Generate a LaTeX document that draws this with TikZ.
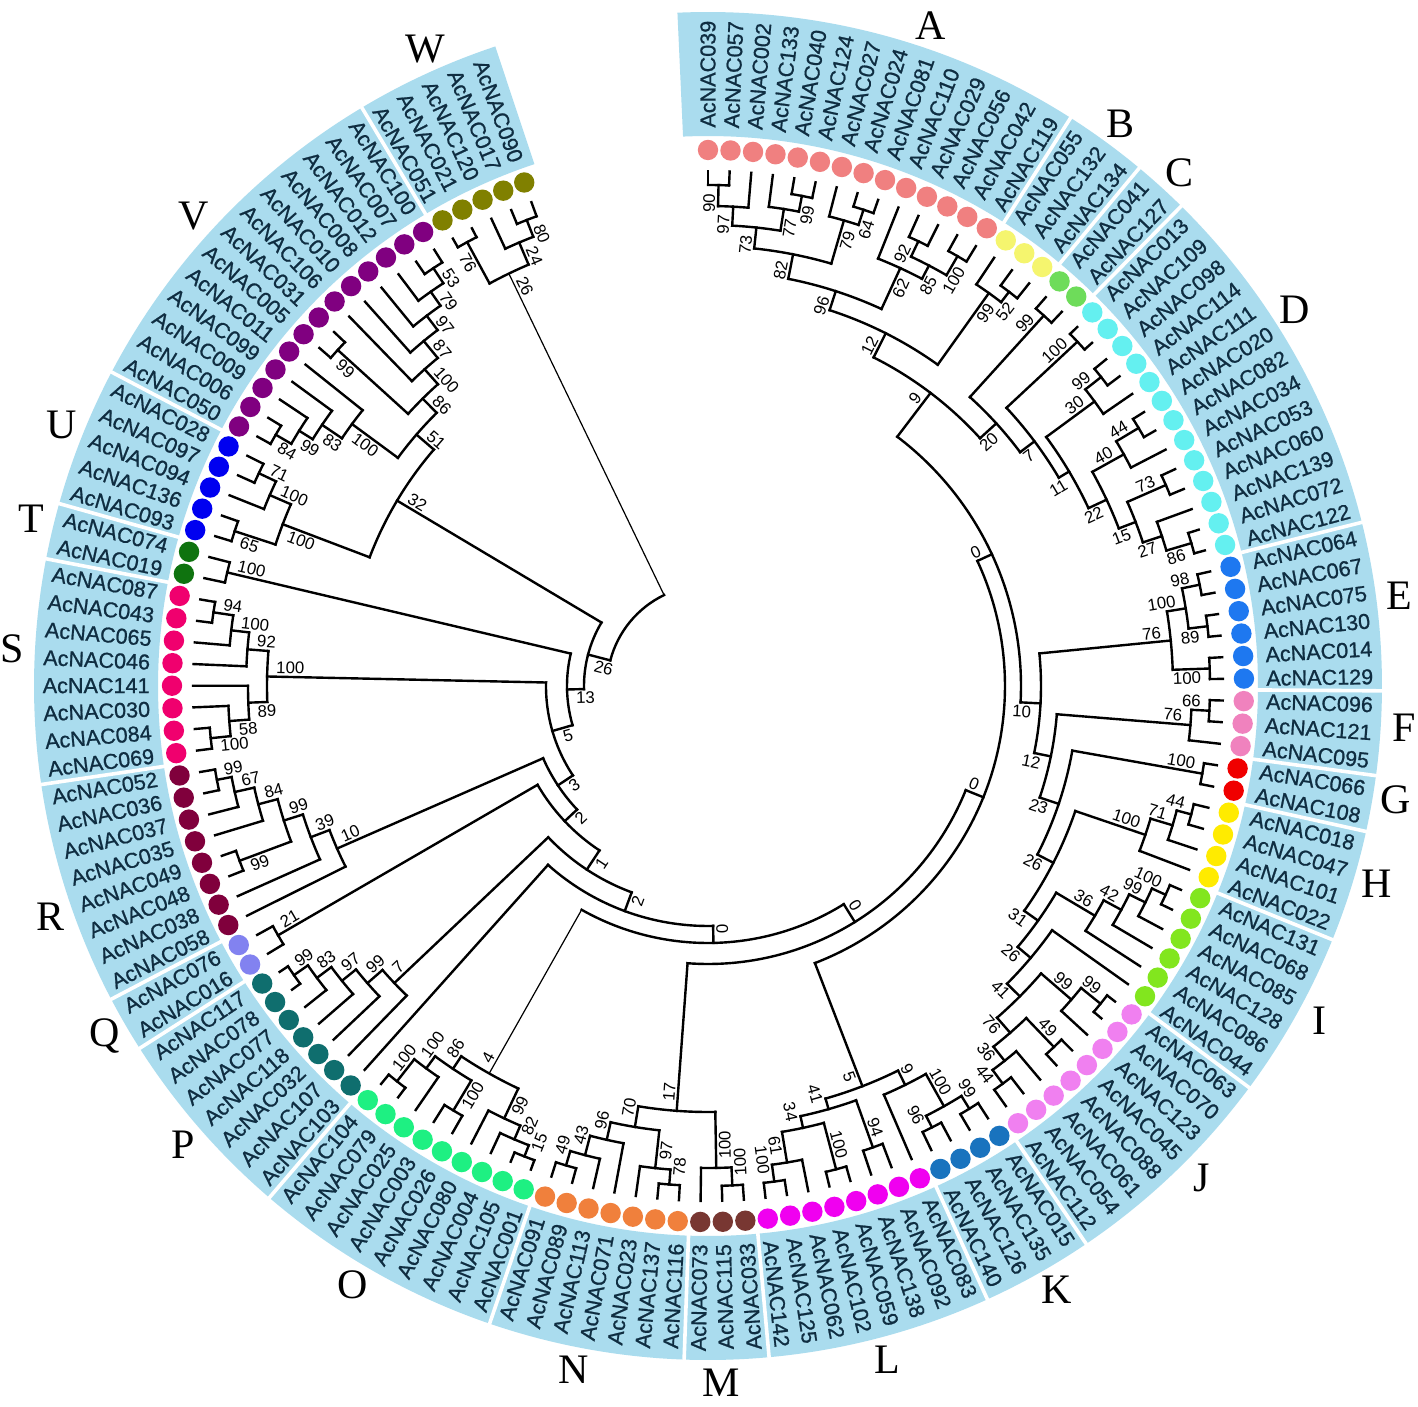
\documentclass[tikz,border=0pt]{standalone}
\usepackage{fontspec}
\setmainfont{Liberation Serif}
\newfontfamily\lsans{Liberation Sans}
\newfontfamily\lsansb[FakeBold=0.9]{Liberation Sans}
\definecolor{bandc}{RGB}{170,220,238}
\definecolor{txc}{RGB}{15,45,65}
\definecolor{cA}{RGB}{240,128,128}\definecolor{cB}{RGB}{245,245,110}
\definecolor{cC}{RGB}{110,220,90}\definecolor{cD}{RGB}{100,240,240}
\definecolor{cE}{RGB}{30,120,240}\definecolor{cF}{RGB}{240,130,190}
\definecolor{cG}{RGB}{240,0,0}\definecolor{cH}{RGB}{255,235,0}
\definecolor{cI}{RGB}{130,230,30}\definecolor{cJ}{RGB}{240,128,240}
\definecolor{cK}{RGB}{25,115,190}\definecolor{cL}{RGB}{240,0,240}
\definecolor{cM}{RGB}{120,55,50}\definecolor{cN}{RGB}{240,128,60}
\definecolor{cO}{RGB}{30,240,130}\definecolor{cP}{RGB}{15,110,110}
\definecolor{cQ}{RGB}{130,130,240}\definecolor{cR}{RGB}{128,0,60}
\definecolor{cS}{RGB}{240,0,110}\definecolor{cT}{RGB}{15,115,15}
\definecolor{cU}{RGB}{0,0,240}\definecolor{cV}{RGB}{128,0,128}
\definecolor{cW}{RGB}{128,128,0}
\def\tA#1{\csname tA@#1\endcsname}
\def\tR#1{\csname tR@#1\endcsname}
\newcommand\putlab[2]{%
  \edef\pla{\tA{#1}}\edef\plr{\tR{#1}}%
  \expandafter\let\expandafter\plt\csname tL@#1\endcsname
  \ifx\plt\empty\else
    \pgfmathsetmacro\plrr{\plr-6}%
    \pgfmathtruncatemacro\pflip{\pla<-86}%
    \ifnum\pflip=0
      \ifnum#2=1 \def\panc{south east}\else\def\panc{north east}\fi
      \edef\prot{\pla}%
    \else
      \ifnum#2=1 \def\panc{north west}\else\def\panc{south west}\fi
      \pgfmathsetmacro\prot{\pla+180}%
    \fi
    \node[bs,rotate=\prot,anchor=\panc] at (\pla:\plrr) {\plt};
  \fi}
% node: name, child1, child2, radius, label, style of radial 1, style of radial 2
\newcommand\ndx[7]{%
  \edef\aA{\tA{#2}}\edef\aB{\tA{#3}}\edef\rA{\tR{#2}}\edef\rB{\tR{#3}}%
  \pgfmathsetmacro\aM{(\aA+\aB)/2}%
  \expandafter\xdef\csname tA@#1\endcsname{\aM}%
  \expandafter\xdef\csname tR@#1\endcsname{#4}%
  \expandafter\gdef\csname tL@#1\endcsname{#5}%
  \draw[br] (\aA:#4) arc[start angle=\aA, end angle=\aB, radius=#4*0.5pt];
  \draw[#6] (\aA:\rA) -- (\aA:#4);
  \draw[#7] (\aB:#4) -- (\aB:\rB);
  \pgfmathtruncatemacro\cmp{\aA>\aB}%
  \ifnum\cmp=1 \putlab{#2}{1}\putlab{#3}{0}\else\putlab{#2}{0}\putlab{#3}{1}\fi}
\newcommand\nd[5]{\ndx{#1}{#2}{#3}{#4}{#5}{br}{br}}
\begin{document}
\begin{tikzpicture}[x=0.5pt,y=0.5pt,
  br/.style={line width=1.2pt,line cap=rect},
  bt/.style={line width=0.6pt},
  bs/.style={font=\lsans\fontsize{8.4}{8.4}\selectfont,inner sep=1.3pt},
  ll/.style={font=\lsansb\fontsize{10.8}{11}\selectfont,text=txc,inner sep=0pt},
  gl/.style={font=\fontsize{21}{21}\selectfont,inner sep=0pt}]
\useasboundingbox (-708,-721) rectangle (710,686);
\fill[white] (-708,-721) rectangle (710,686);
% leaves
\foreach \i in {0,...,141}{%
  \pgfmathsetmacro\tmpa{90-2.411*\i}%
  \expandafter\xdef\csname tA@L\i\endcsname{\tmpa}%
  \expandafter\xdef\csname tR@L\i\endcsname{515}%
  \expandafter\gdef\csname tL@L\i\endcsname{}}
% groups: band, dots, letters
\foreach \f/\l/\c/\la/\g in {0/13/cA/71.4/A,14/16/cB/53.7/B,17/18/cC/47.4/C,19/31/cD/32.7/D,32/37/cE/7.4/E,38/40/cF/-3.4/F,41/42/cG/-9.4/G,43/46/cH/-16.5/H,47/52/cI/-28.7/I,53/60/cJ/-44.9/J,61/64/cK/-60/K,65/72/cL/-75.1/L,73/75/cM/-88.9/M,76/82/cN/-101.1/N,83/91/cO/-120.7/O,92/98/cP/-138.8/P,99/100/cQ/-149.9/Q,101/108/cR/-160.7/R,109/116/cS/-183.05/S,117/118/cT/-193.9/T,119/123/cU/-202/U,124/136/cV/-222.4/V,137/141/cW/-246.1/W}{%
  \pgfmathsetmacro\sa{90-2.411*\f+1.2055}%
  \pgfmathsetmacro\ea{90-2.411*\l-1.2055}%
  \ifnum\f=0 \def\sa{92.6}\fi
  \ifnum\l=141 \def\ea{-251.6}\fi
  \fill[bandc] (\sa:550) arc[start angle=\sa,end angle=\ea,radius=275pt] -- (\ea:674) arc[start angle=\ea,end angle=\sa,radius=337pt] -- cycle;
  \ifnum\f>0 \draw[white,line width=1.8pt] (\sa:546) -- (\sa:678);\fi
  \foreach \i in {\f,...,\l}{\fill[\c] ({90-2.411*\i}:536) circle[radius=5.1pt];}
  \node[gl] (g\g) at (\la:697) {\g};
}
% leaf labels
\foreach \i/\t in {0/039,1/057,2/002,3/133,4/040,5/124,6/027,7/024,8/081,9/110,10/029,11/056,12/042,13/119,14/055,15/132,16/134,17/041,18/127,19/013,20/109,21/098,22/114,23/111,24/020,25/082,26/034,27/053,28/060,29/139,30/072,31/122,32/064,33/067,34/075,35/130,36/014,37/129,38/096,39/121,40/095,41/066,42/108,43/018,44/047,45/101,46/022,47/131,48/068,49/085,50/128,51/086,52/044,53/063,54/070,55/123,56/045,57/088,58/061,59/054,60/112,61/015,62/135,63/126,64/140,65/083,66/092,67/138,68/059,69/102,70/062,71/125,72/142,73/033,74/115,75/073,76/116,77/137,78/023,79/071,80/113,81/089,82/091,83/001,84/105,85/004,86/080,87/026,88/003,89/025,90/079,91/104,92/103,93/107,94/032,95/118,96/077,97/078,98/117,99/016,100/076,101/058,102/038,103/048,104/049,105/035,106/037,107/036,108/052,109/069,110/084,111/030,112/141,113/046,114/065,115/043,116/087,117/019,118/074,119/093,120/136,121/094,122/097,123/028,124/050,125/006,126/009,127/099,128/011,129/005,130/031,131/106,132/010,133/008,134/012,135/007,136/100,137/051,138/021,139/120,140/017,141/090}{%
  \pgfmathsetmacro\ang{90-2.411*\i}%
  \ifnum\i<73
    \node[ll,rotate=\ang,anchor=west] (t\i) at (\ang:558) {AcNAC\t};
  \else
    \pgfmathsetmacro\rot{\ang+180}%
    \node[ll,rotate=\rot,anchor=east] (t\i) at (\ang:558) {AcNAC\t};
  \fi}
% ---- tree ----
% A
\nd{a1}{L0}{L1}{501}{90}
\nd{a2}{a1}{L2}{480}{97}
\nd{a3}{L4}{L5}{499}{99}
\nd{a4}{L3}{a3}{483}{77}
\nd{a5}{a2}{a4}{461}{73}
\nd{a6}{L7}{L8}{501}{64}
\nd{a7}{L6}{a6}{485}{79}
\nd{a8}{a5}{a7}{440}{82}
\nd{a9}{L10}{L11}{492}{92}
\nd{a10}{L12}{L13}{497}{100}
\nd{a11}{a9}{a10}{475}{85}
\nd{a12}{L9}{a11}{460}{62}
\nd{A}{a8}{a12}{415}{96}
% B C D
\nd{b1}{L15}{L16}{496}{52}
\nd{B}{L14}{b1}{483}{99}
\nd{C}{L17}{L18}{500}{99}
\nd{d1}{L19}{L20}{505}{100}
\nd{d21}{L21}{L22}{500}{99}
\nd{d30}{d21}{L23}{480}{30}
\nd{d44}{L24}{L25}{502}{44}
\nd{d40}{d44}{L26}{476}{40}
\nd{d73}{L27}{L28}{500}{73}
\nd{d86}{L30}{L31}{504}{86}
\nd{d27}{L29}{d86}{478}{27}
\nd{d15}{d73}{d27}{458}{15}
\nd{d22}{d40}{d15}{440}{22}
\nd{d11}{d30}{d22}{420}{11}
\nd{D}{d1}{d11}{408}{7}
\nd{n20}{C}{D}{390}{20}
\nd{n12}{A}{B}{395}{12}
\nd{n9a}{n12}{n20}{368}{9}
% E F G H
\nd{e1}{L32}{L33}{502}{98}
\nd{e2}{L34}{L35}{503}{89}
\nd{e3}{e1}{e2}{484}{100}
\nd{e4}{L36}{L37}{502}{100}
\nd{E}{e3}{e4}{465}{76}
\nd{f1}{L38}{L39}{502}{66}
\nd{F}{f1}{L40}{484}{76}
\nd{G}{L41}{L42}{502}{100}
\nd{h1}{L43}{L44}{500}{44}
\nd{h2}{h1}{L45}{485}{71}
\nd{H}{h2}{L46}{462}{100}
% I J
\nd{i1}{L47}{L48}{503}{100}
\nd{i2}{i1}{L49}{488}{99}
\nd{i3}{i2}{L50}{470}{42}
\nd{Ip}{i3}{L51}{450}{36}
\nd{j1}{L53}{L54}{505}{99}
\nd{j2}{j1}{L55}{480}{99}
\nd{j3}{L56}{L57}{500}{49}
\nd{j4}{L59}{L60}{495}{44}
\nd{j5}{L58}{j4}{478}{36}
\nd{j6}{j3}{j5}{460}{76}
\nd{J}{j2}{j6}{440}{41}
\nd{X26}{L52}{J}{422}{26}
\nd{X31}{Ip}{X26}{405}{31}
\nd{n26b}{H}{X31}{388}{26}
\nd{n23}{G}{n26b}{370}{23}
\nd{n12b}{F}{n23}{350}{12}
\nd{n10}{E}{n12b}{333}{10}
\nd{P0a}{n9a}{n10}{313}{0}
% K L
\nd{k1}{L61}{L62}{497}{99}
\nd{k2}{L63}{L64}{495}{96}
\nd{K}{k1}{k2}{482}{100}
\nd{n9k}{K}{L65}{445}{9}
\nd{l1}{L66}{L67}{490}{94}
\nd{l3}{L68}{L69}{500}{100}
\nd{l4}{L71}{L72}{500}{100}
\nd{l5}{L70}{l4}{483}{61}
\nd{l6}{l3}{l5}{452}{34}
\nd{Lx}{l1}{l6}{440}{41}
\nd{n5}{n9k}{Lx}{429}{5}
\nd{Z1}{n5}{P0a}{297}{0}
% M N
\nd{m1}{L73}{L74}{500}{100}
\nd{M}{m1}{L75}{482}{100}
\nd{na}{L76}{L77}{500}{78}
\nd{nb}{na}{L78}{485}{97}
\nd{nc}{L81}{L82}{500}{49}
\nd{nd}{L80}{nc}{485}{43}
\nd{ne}{L79}{nd}{465}{96}
\nd{N}{nb}{ne}{447}{70}
\nd{MN}{M}{N}{426}{17}
\nd{Z2}{MN}{Z1}{278}{0}
% O
\nd{o1}{L83}{L84}{505}{15}
\nd{o2}{o1}{L85}{493}{82}
\nd{oa}{o2}{L86}{478}{99}
\nd{o3}{L90}{L91}{503}{100}
\nd{o4}{L89}{o3}{475}{100}
\nd{o5}{L87}{L88}{495}{100}
\nd{ob}{o5}{o4}{460}{86}
\nd{O}{oa}{ob}{445}{4}
\ndx{Z3}{O}{Z2}{257}{0}{bt}{br}
% P Q R S T
\nd{p1}{L97}{L98}{505}{99}
\nd{p2}{L96}{p1}{488}{83}
\nd{p3}{L95}{p2}{470}{97}
\nd{p4}{L94}{p3}{452}{99}
\nd{P}{L93}{p4}{432}{7}
\nd{Nh}{L92}{Z3}{240}{2}
\nd{Ng}{P}{Nh}{220}{1}
\nd{Q}{L99}{L100}{497}{21}
\nd{Nf}{Q}{Ng}{197}{2}
\nd{r1}{L107}{L108}{500}{99}
\nd{r2}{L106}{r1}{485}{67}
\nd{r3}{L105}{r2}{465}{84}
\nd{r4}{L103}{L104}{500}{99}
\nd{r5}{r4}{r3}{445}{99}
\nd{r6}{L102}{r5}{425}{39}
\nd{R}{L101}{r6}{405}{10}
\nd{Ne}{R}{Nf}{180}{3}
\nd{s1}{L115}{L116}{500}{94}
\nd{s2}{L114}{s1}{480}{100}
\nd{s3}{L113}{s2}{462}{92}
\nd{s4}{L109}{L110}{500}{100}
\nd{s5}{s4}{L111}{480}{58}
\nd{s6}{s5}{L112}{460}{89}
\nd{S}{s6}{s3}{441}{100}
\nd{Nd}{S}{Ne}{162}{5}
\nd{T}{L117}{L118}{494}{100}
\nd{Nc}{T}{Nd}{141}{13}
% U V W
\nd{u1}{L119}{L120}{498}{65}
\nd{u2}{L122}{L123}{497}{71}
\nd{u3}{L121}{u2}{478}{100}
\nd{U}{u1}{u3}{455}{100}
\nd{v1}{L124}{L125}{500}{84}
\nd{v2}{v1}{L126}{482}{99}
\nd{v3}{v2}{L127}{466}{83}
\nd{v4}{v3}{L128}{442}{100}
\nd{v5}{L129}{L130}{500}{99}
\nd{v6}{L135}{L136}{500}{53}
\nd{v7}{L134}{v6}{482}{79}
\nd{v8}{L133}{v7}{465}{97}
\nd{v9}{L132}{v8}{447}{87}
\nd{v10}{L131}{v9}{425}{100}
\nd{v11}{v5}{v10}{405}{86}
\nd{V}{v4}{v11}{385}{51}
\nd{VU}{U}{V}{362}{32}
\nd{Nb}{VU}{Nc}{124}{26}
\nd{w1}{L137}{L138}{505}{76}
\nd{w2}{L140}{L141}{500}{80}
\nd{w3}{L139}{w2}{482}{24}
\nd{W}{w1}{w3}{458}{26}
\ndx{root}{W}{Nb}{101}{}{bt}{br}
\end{tikzpicture}
\end{document}
